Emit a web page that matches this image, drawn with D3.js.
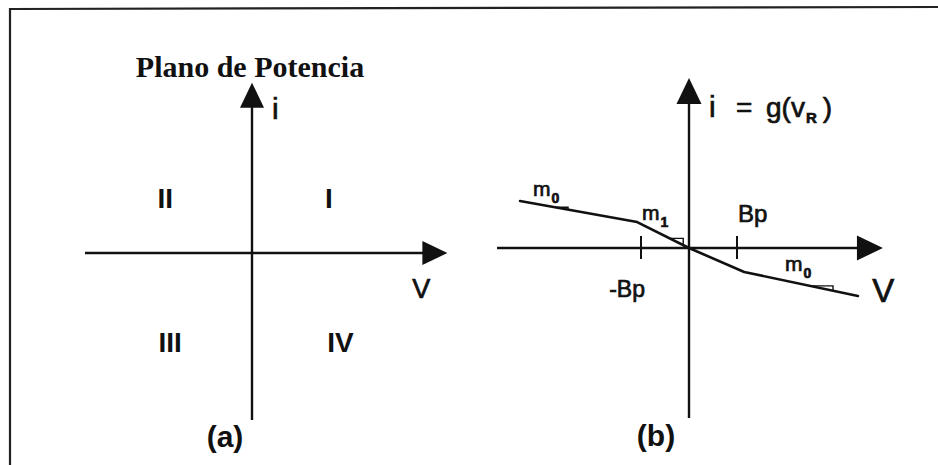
<!DOCTYPE html>
<html>
<head>
<meta charset="utf-8">
<script src="https://cdn.jsdelivr.net/npm/d3@7"></script>
<style>
  html, body { margin: 0; padding: 0; background: #fff; }
  svg { display: block; }
  .sans { font-family: "Liberation Sans", Arial, sans-serif; fill: #111; }
  .heavy { stroke: #111; stroke-width: 0.7px; }
  .serif { font-family: "Liberation Serif", "Times New Roman", serif; fill: #111; }
</style>
</head>
<body>
<svg id="chart" width="938" height="465"></svg>
<script>
// ---- Panel (a): power plane quadrants ----
const quadrantLabels = ["I", "II", "III", "IV"];
const quadrantV = [0.46, -0.52, -0.49, 0.53];
const quadrantI = [0.33, 0.33, -0.53, -0.53];
const axisAExtentV = [-1, 1.17];
const axisAExtentI = [-1, 1.02];

// ---- Panel (b): piecewise-linear characteristic i = g(vR) ----
const curveV = [-3.52, -1.08, 0, 1.15, 3.52];
const curveI = [0.98, 0.54, 0, -0.5, -1.0];
const breakTicks = [-1, 1];
const breakTickLabels = ["-Bp", "Bp"];
const slopeLabels = ["m", "m", "m"];
const slopeSubs = ["0", "1", "0"];
const slopeStartV = [-2.79, -0.40, 2.52];
const slopeRunV = [0.27, 0.28, 0.48];
const axisBExtentV = [-4.0, 4.04];
const axisBExtentI = [-3.54, 3.54];

const svg = d3.select("#chart");
const ink = "#111";

// Frame
const defs = svg.append("defs");
const grad = defs.append("linearGradient").attr("id", "bottomEdge")
  .attr("x1", "0%").attr("x2", "100%");
grad.append("stop").attr("offset", "0%").attr("stop-color", "#e2e2e2");
grad.append("stop").attr("offset", "60%").attr("stop-color", "#c8c8c8");
grad.append("stop").attr("offset", "85%").attr("stop-color", "#555");
grad.append("stop").attr("offset", "100%").attr("stop-color", "#333");

svg.append("line").attr("x1", 10).attr("y1", 9).attr("x2", 938).attr("y2", 7)
  .attr("stroke", "#222").attr("stroke-width", 2.2);
svg.append("line").attr("x1", 10).attr("y1", 8).attr("x2", 10).attr("y2", 465)
  .attr("stroke", "#222").attr("stroke-width", 2.2);
svg.append("line").attr("x1", 10).attr("y1", 463.5).attr("x2", 938).attr("y2", 463.5)
  .attr("stroke", "url(#bottomEdge)").attr("stroke-width", 2);

// Draws a pair of crossing axes with arrowheads at the positive ends
function drawAxes(g, x, y, extV, extI, head) {
  const x0 = x(0), y0 = y(0);
  const xr = x(extV[1]), yt = y(extI[1]);
  g.append("line").attr("x1", x(extV[0])).attr("y1", y0).attr("x2", xr - head.len + 2).attr("y2", y0)
    .attr("stroke", ink).attr("stroke-width", 2.4);
  g.append("line").attr("x1", x0).attr("y1", y(extI[0])).attr("x2", x0).attr("y2", yt + head.len - 2)
    .attr("stroke", ink).attr("stroke-width", 2.4);
  g.append("path")
    .attr("d", `M${xr},${y0} L${xr - head.len},${y0 - head.w} L${xr - head.len},${y0 + head.w} Z`)
    .attr("fill", ink);
  g.append("path")
    .attr("d", `M${x0},${yt} L${x0 - head.w},${yt + head.len} L${x0 + head.w},${yt + head.len} Z`)
    .attr("fill", ink);
}

// ---------- Panel (a) ----------
const xA = d3.scaleLinear().domain([-1, 1]).range([85, 419]);
const yA = d3.scaleLinear().domain([-1, 1]).range([420, 86]);
const gA = svg.append("g");
drawAxes(gA, xA, yA, axisAExtentV, axisAExtentI, { len: 25, w: 12 });

gA.append("text").attr("class", "serif")
  .attr("x", xA(0) - 2).attr("y", 77)
  .attr("text-anchor", "middle").attr("font-size", 30).attr("font-weight", "bold")
  .text("Plano de Potencia");

gA.append("text").attr("class", "sans heavy")
  .attr("x", xA(0) + 20).attr("y", 119).attr("font-size", 30)
  .text("i");
gA.append("text").attr("class", "sans heavy")
  .attr("x", xA(0.96)).attr("y", 298).attr("font-size", 27)
  .text("V");

gA.selectAll("text.quad").data(quadrantLabels).join("text")
  .attr("class", "sans quad")
  .attr("x", (d, k) => xA(quadrantV[k]))
  .attr("y", (d, k) => yA(quadrantI[k]) + 10)
  .attr("text-anchor", "middle").attr("font-size", 28).attr("font-weight", "bold")
  .text(d => d);

gA.append("text").attr("class", "sans")
  .attr("x", 225).attr("y", 447).attr("text-anchor", "middle")
  .attr("font-size", 30).attr("font-weight", "bold").text("(a)");

// ---------- Panel (b) ----------
const xB = d3.scaleLinear().domain([-1, 1]).range([641, 737]);
const yB = d3.scaleLinear().domain([-1, 1]).range([296, 200]);
const gB = svg.append("g");
drawAxes(gB, xB, yB, axisBExtentV, axisBExtentI, { len: 26, w: 12.5 });

// Breakpoint ticks
gB.selectAll("line.tick").data(breakTicks).join("line")
  .attr("class", "tick")
  .attr("x1", d => xB(d)).attr("x2", d => xB(d))
  .attr("y1", yB(0) - 12).attr("y2", yB(0) + 11)
  .attr("stroke", ink).attr("stroke-width", 2);

gB.append("text").attr("class", "sans heavy")
  .attr("x", xB(-1) + 4).attr("y", yB(0) + 49).attr("text-anchor", "end")
  .attr("font-size", 23).text(breakTickLabels[0]);
gB.append("text").attr("class", "sans heavy")
  .attr("x", xB(1) + 1).attr("y", yB(0) - 26)
  .attr("font-size", 24).text(breakTickLabels[1]);

// Characteristic curve
const pts = curveV.map((v, k) => [v, curveI[k]]);
const line = d3.line().x(d => xB(d[0])).y(d => yB(d[1]));
gB.append("path").datum(pts).attr("d", line)
  .attr("fill", "none").attr("stroke", ink).attr("stroke-width", 2.6)
  .attr("stroke-linejoin", "round").attr("stroke-linecap", "round");

// Slope markers: horizontal run from the curve, then vertical leg back down to it
const g = v => {
  for (let k = 0; k < curveV.length - 1; k++) {
    if (v >= curveV[k] && v <= curveV[k + 1]) {
      const t = (v - curveV[k]) / (curveV[k + 1] - curveV[k]);
      return curveI[k] + t * (curveI[k + 1] - curveI[k]);
    }
  }
  return 0;
};
gB.selectAll("path.slope").data(slopeStartV).join("path")
  .attr("class", "slope")
  .attr("d", (v, k) => {
    const v2 = v + slopeRunV[k];
    return `M${xB(v)},${yB(g(v))} L${xB(v2)},${yB(g(v))} L${xB(v2)},${yB(g(v2))}`;
  })
  .attr("fill", "none").attr("stroke", ink).attr("stroke-width", 1.4);

// Slope labels
const slopeLabelPos = [[533, 196], [642, 220], [785, 271]];
slopeLabels.forEach((m, k) => {
  const t = gB.append("text").attr("class", "sans heavy")
    .attr("x", slopeLabelPos[k][0]).attr("y", slopeLabelPos[k][1]).attr("font-size", 21);
  t.append("tspan").text(m);
  t.append("tspan").attr("font-size", 14).attr("font-weight", "bold").attr("dy", 7).attr("dx", 1).text(slopeSubs[k]);
});

// Axis titles
gB.append("text").attr("class", "sans heavy")
  .attr("x", xB(3.82)).attr("y", 302).attr("font-size", 33).text("V");

const eq = gB.append("g");
eq.append("text").attr("class", "sans heavy").attr("x", xB(0) + 20).attr("y", 117).attr("font-size", 30).text("i");
eq.append("text").attr("class", "sans heavy").attr("x", 736).attr("y", 117).attr("font-size", 28).text("=");
const gv = eq.append("text").attr("class", "sans heavy").attr("x", 766).attr("y", 117).attr("font-size", 28);
gv.append("tspan").text("g(v");
gv.append("tspan").attr("font-size", 15).attr("font-weight", "bold").attr("dy", 6).attr("dx", 1).text("R");
gv.append("tspan").attr("dy", -6).attr("dx", 6).text(")");

gB.append("text").attr("class", "sans")
  .attr("x", 656).attr("y", 446).attr("text-anchor", "middle")
  .attr("font-size", 30).attr("font-weight", "bold").text("(b)");
</script>
</body>
</html>
